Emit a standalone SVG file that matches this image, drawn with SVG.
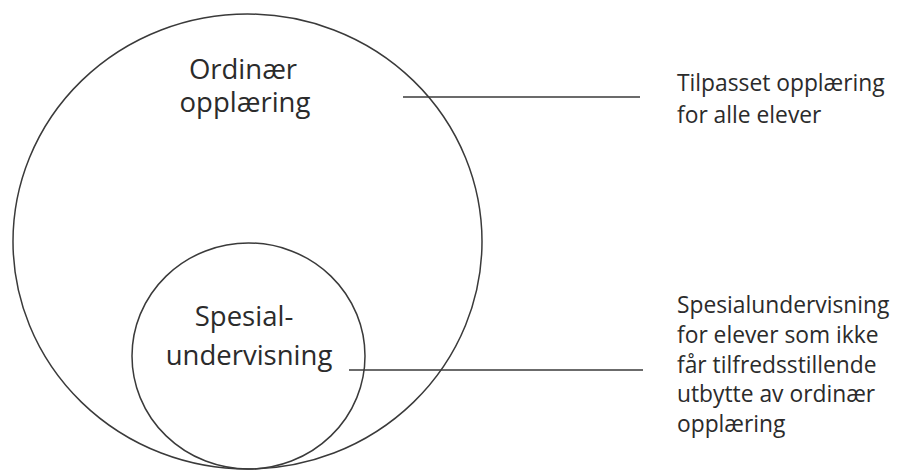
<svg xmlns="http://www.w3.org/2000/svg" width="899" height="470" viewBox="0 0 899 470">
  <style>
    .shape { fill: none; stroke: #3a3a3a; stroke-width: 1.5; }
    .conn { fill: none; stroke: #3a3a3a; stroke-width: 1.6; }
    .big { font-family: "Open Sans", "Noto Sans", sans-serif; font-size: 27.5px; fill: #2b2b2b; text-anchor: middle; }
    .side { font-family: "Open Sans", "Noto Sans", sans-serif; font-size: 22.8px; fill: #2b2b2b; }
  </style>
  <rect width="899" height="470" fill="#ffffff"/>
  <g id="ordinaer">
    <ellipse class="shape" cx="247.5" cy="241.5" rx="234.5" ry="227.5"/>
    <text class="big" x="243" y="79">Ordinær</text>
    <text class="big" x="245" y="112">opplæring</text>
  </g>
  <g id="spesial">
    <ellipse class="shape" cx="248.5" cy="356" rx="116.5" ry="113"/>
    <text class="big" x="244" y="326">Spesial-</text>
    <text class="big" x="249" y="365">undervisning</text>
  </g>
  <g id="connectors">
    <line class="conn" x1="403" y1="97" x2="640" y2="97"/>
    <line class="conn" x1="349" y1="370" x2="643" y2="370"/>
  </g>
  <g id="label-tilpasset">
    <text class="side" x="677" y="91">Tilpasset opplæring</text>
    <text class="side" x="677" y="123">for alle elever</text>
  </g>
  <g id="label-spesial">
    <text class="side" x="677" y="313">Spesialundervisning</text>
    <text class="side" x="677" y="343">for elever som ikke</text>
    <text class="side" x="677" y="373">får tilfredsstillende</text>
    <text class="side" x="677" y="402">utbytte av ordinær</text>
    <text class="side" x="677" y="432">opplæring</text>
  </g>
</svg>
